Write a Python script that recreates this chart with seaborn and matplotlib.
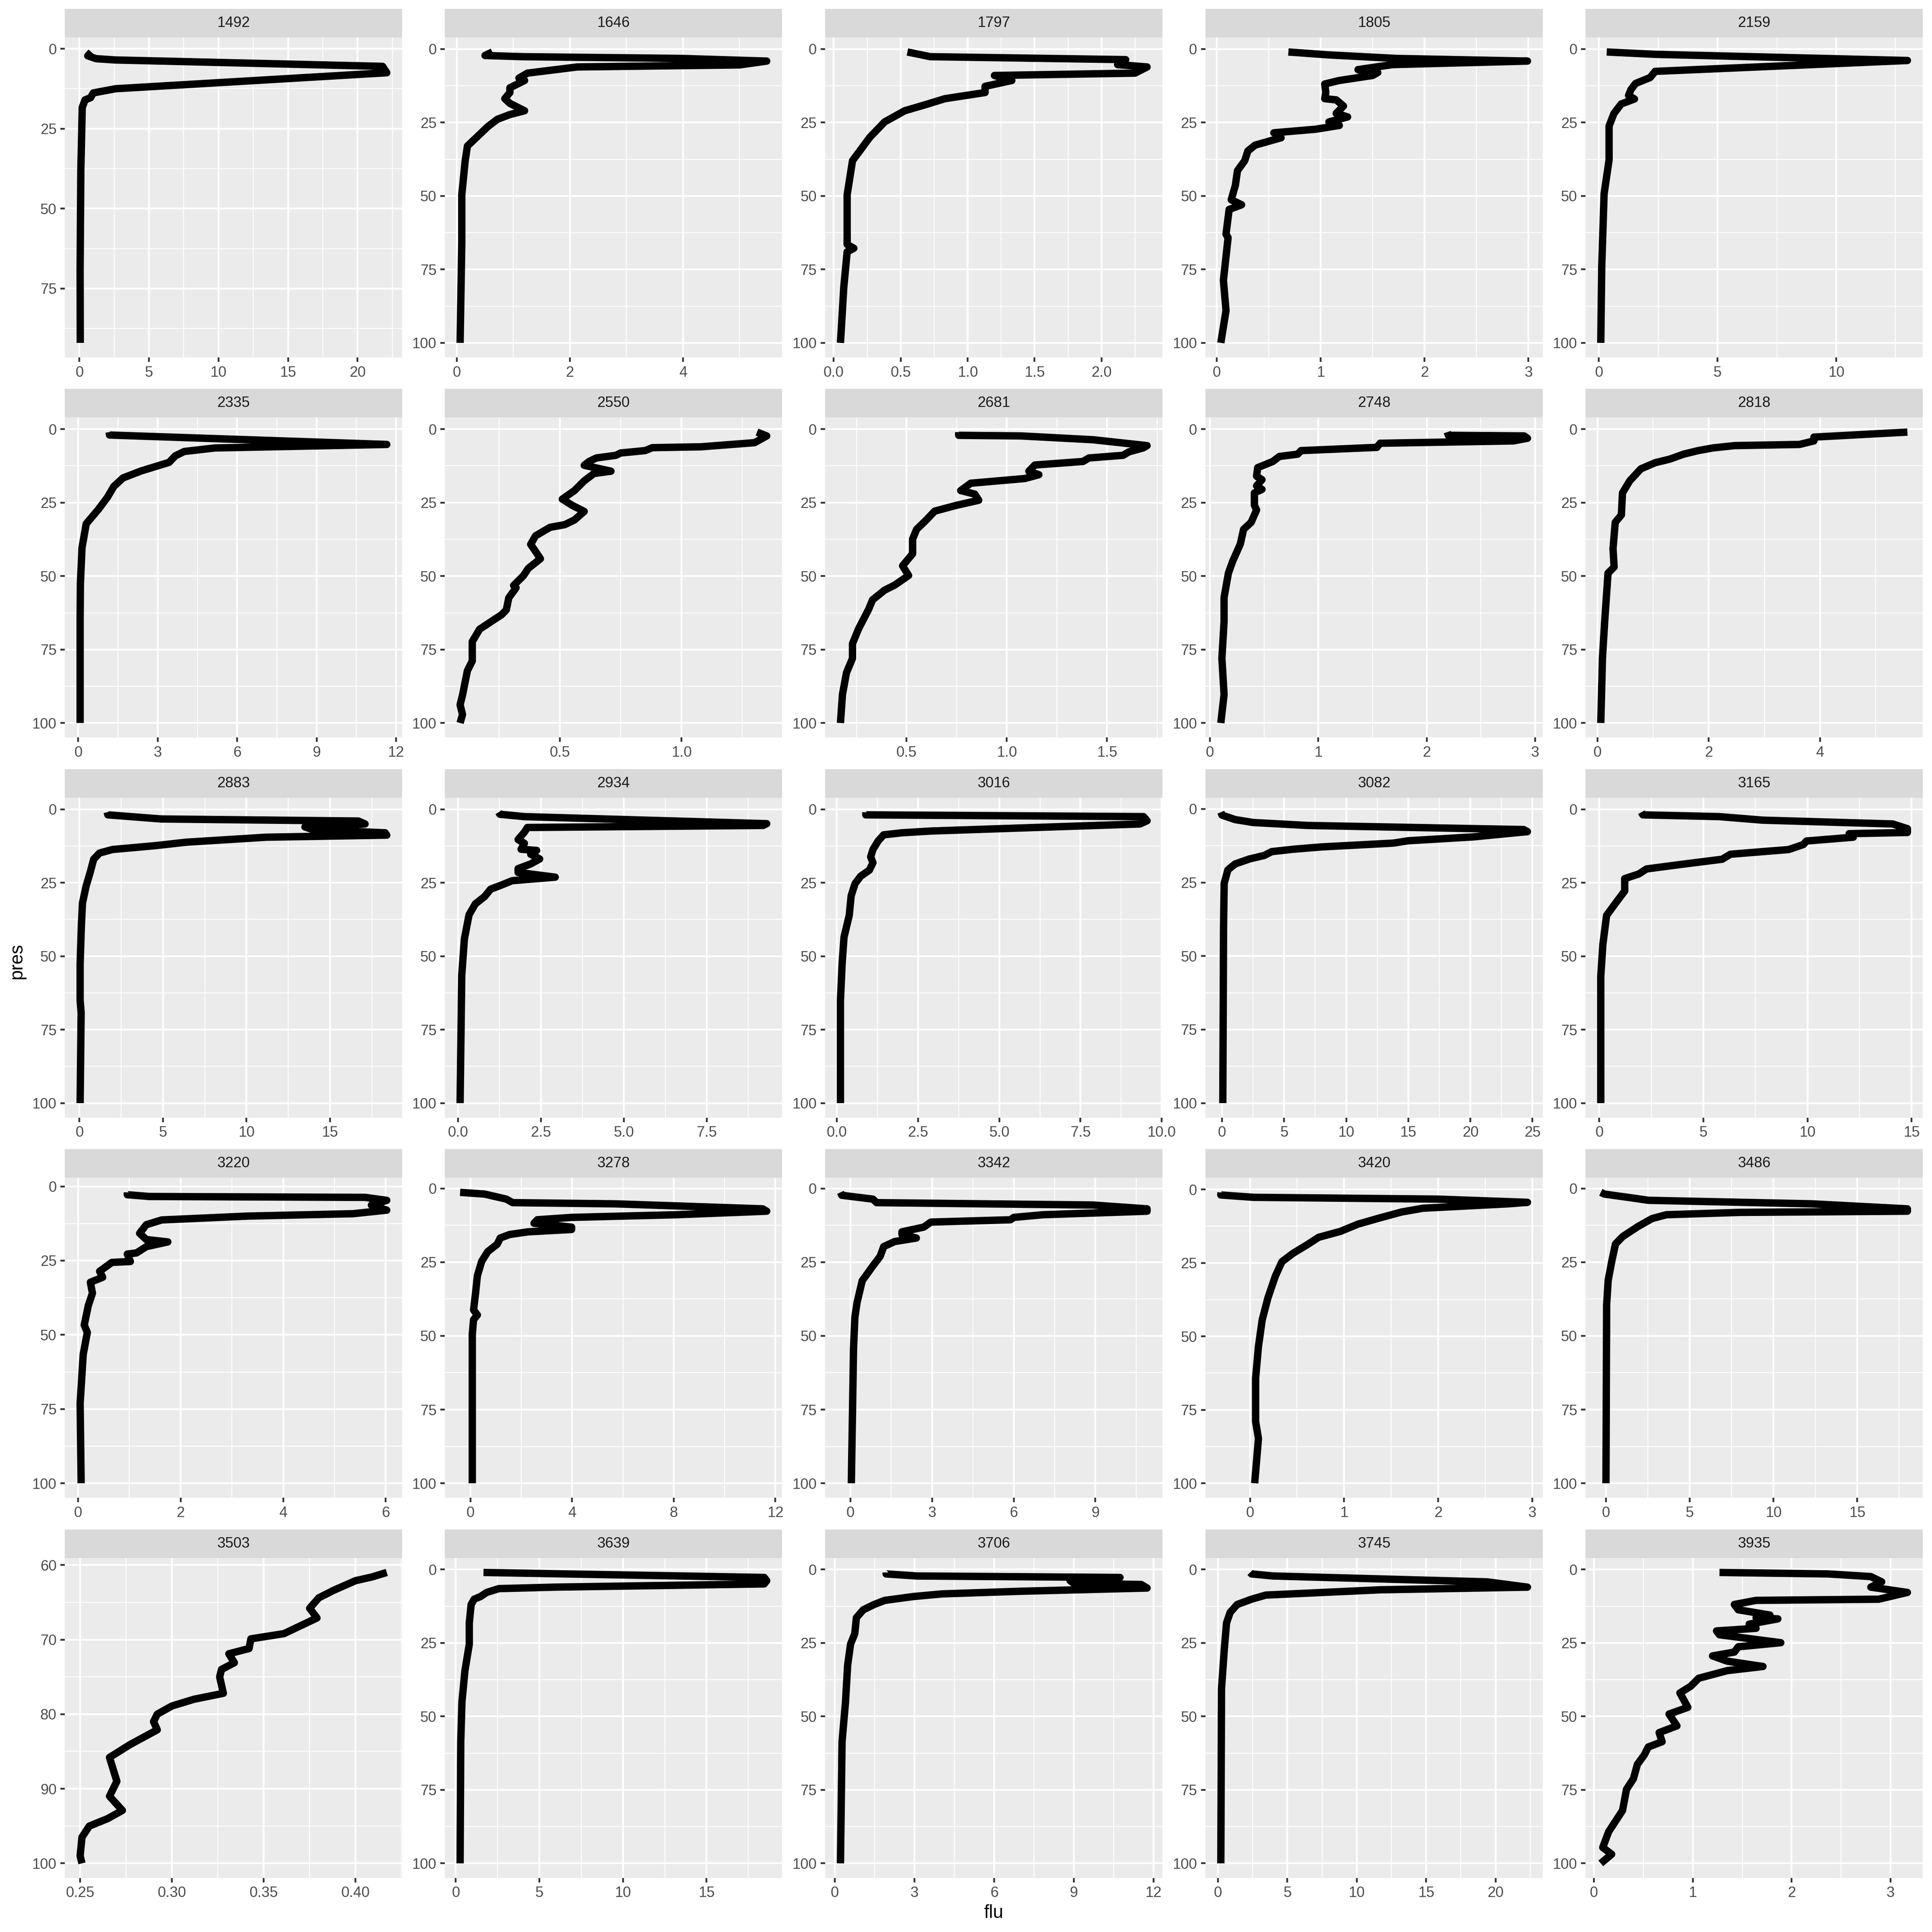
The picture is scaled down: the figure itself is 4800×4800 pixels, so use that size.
import numpy as np
import pandas as pd
import matplotlib
matplotlib.use("Agg")
import matplotlib.pyplot as plt
import seaborn as sns

# ---------------- data ----------------
stations = ["1492", "1646", "1797", "1805", "2159",
            "2335", "2550", "2681", "2748", "2818",
            "2883", "2934", "3016", "3082", "3165",
            "3220", "3278", "3342", "3420", "3486",
            "3503", "3639", "3706", "3745", "3935"]

pres_1492 = [1, 2.2, 3.1, 3.5, 5.5, 7.5, 12.5, 13.8, 15.3, 16, 18.4, 26.7, 38, 69, 92]
flu_1492 = [0.85, 0.6, 1.2, 2.6, 21.8, 22.1, 2.6, 1.0, 0.8, 0.4, 0.2, 0.16, 0.1, 0.05, 0.06]
xt_1492 = ["0", "5", "10", "15", "20"]

pres_1646 = [1, 2.2, 2.6, 3.2, 4.1, 5.4, 6.1, 8.2, 9.9, 10.7, 13.2, 14.8, 16.9, 18.5, 21, 22.3, 23.9, 26.4, 29.7, 33, 38, 49.6, 66, 100]
flu_1646 = [0.63, 0.5, 1.16, 3.98, 5.48, 5.0, 2.13, 1.25, 1.1, 1.2, 0.94, 0.94, 0.85, 0.94, 1.2, 0.94, 0.72, 0.55, 0.37, 0.19, 0.15, 0.09, 0.09, 0.06]
xt_1646 = ["0", "2", "4"]

pres_1797 = [1, 2.6, 3.6, 5.3, 6.1, 8.2, 9, 10.7, 12.7, 14.8, 16.9, 19, 21, 24.8, 30, 38, 49.6, 66.5, 67.8, 69, 81, 100]
flu_1797 = [0.55, 0.72, 2.18, 2.12, 2.34, 2.25, 1.2, 1.33, 1.13, 1.13, 0.83, 0.68, 0.53, 0.38, 0.27, 0.14, 0.1, 0.1, 0.15, 0.1, 0.075, 0.05]
xt_1797 = ["0.0", "0.5", "1.0", "1.5", "2.0"]

pres_1805 = [1, 2, 3.2, 4.1, 5.3, 7, 7.4, 8, 9, 10.7, 11.9, 14.8, 16.9, 17.3, 19.4, 21.9, 23.1, 24.8, 26, 27.3, 28.5, 30.2, 32.7, 34.7, 38, 41.4, 46.4, 51.3, 53, 54.6, 63, 64.2, 78.7, 89, 100]
flu_1805 = [0.69, 1.08, 1.73, 2.99, 1.69, 1.36, 1.39, 1.55, 1.5, 1.18, 1.04, 1.05, 1.04, 1.15, 1.22, 1.15, 1.26, 1.08, 1.18, 0.95, 0.55, 0.62, 0.37, 0.3, 0.27, 0.2, 0.18, 0.14, 0.24, 0.12, 0.09, 0.11, 0.065, 0.09, 0.04]
xt_1805 = ["0", "1", "2", "3"]

pres_2159 = [1, 1.8, 3.9, 7.6, 9.7, 11.7, 13.8, 15.8, 17, 18.7, 22, 26.2, 37.7, 49.3, 74, 100]
flu_2159 = [0.33, 2.37, 13.0, 2.37, 2.16, 1.55, 1.35, 1.25, 1.5, 0.94, 0.63, 0.43, 0.43, 0.22, 0.12, 0.08]
xt_2159 = ["0", "5", "10"]

pres_2335 = [1, 2, 5.2, 6.4, 7.6, 9.1, 11.3, 14.2, 16.6, 19.5, 23.2, 27.3, 32.2, 40.4, 52.7, 65, 100]
flu_2335 = [1.16, 1.18, 11.65, 5.16, 4.0, 3.66, 3.43, 2.38, 1.69, 1.34, 1.1, 0.76, 0.3, 0.14, 0.08, 0.07, 0.07]
xt_2335 = ["0", "3", "6", "9", "12"]

pres_2550 = [1, 2.3, 4.6, 6, 6.3, 7.3, 8.1, 8.9, 9.8, 11, 12.3, 14.3, 15.1, 17.6, 20.9, 23.8, 25.9, 28, 30.9, 32.5, 33.4, 36.3, 39.2, 41.6, 44.1, 47.4, 49.9, 53.2, 54, 57.4, 61.5, 63.2, 64.8, 68.1, 72.3, 78.9, 82.2, 90.5, 93.8, 97.1, 100]
flu_2550 = [1.31, 1.35, 1.30, 1.08, 0.88, 0.85, 0.75, 0.73, 0.65, 0.62, 0.6, 0.71, 0.64, 0.6, 0.56, 0.51, 0.55, 0.6, 0.56, 0.52, 0.46, 0.4, 0.38, 0.4, 0.42, 0.37, 0.35, 0.31, 0.32, 0.29, 0.28, 0.26, 0.23, 0.17, 0.14, 0.14, 0.12, 0.10, 0.09, 0.1, 0.09]
xt_2550 = ["0.5", "1.0"]

pres_2681 = [1, 2.1, 2.3, 3.6, 5.6, 6.4, 7.7, 8.9, 9.8, 11, 12.2, 14.3, 15.5, 16.8, 18.4, 20.9, 22.1, 24.2, 25.9, 27.9, 30.8, 34.1, 37.4, 42.4, 46.5, 49.8, 53.1, 54.8, 58.1, 61.4, 68, 73, 78, 82.9, 90.3, 100]
flu_2681 = [0.76, 0.76, 1.07, 1.43, 1.7, 1.68, 1.61, 1.58, 1.41, 1.38, 1.14, 1.11, 1.16, 1.09, 0.82, 0.77, 0.84, 0.86, 0.75, 0.64, 0.6, 0.55, 0.53, 0.53, 0.48, 0.51, 0.44, 0.39, 0.33, 0.31, 0.26, 0.23, 0.23, 0.2, 0.18, 0.17]
xt_2681 = ["0.5", "1.0", "1.5"]

pres_2748 = [1, 2.1, 2.3, 3.1, 4, 4.8, 6.2, 7.3, 8.5, 9.3, 11, 13.1, 16, 17.2, 19.3, 20.5, 21.7, 25.9, 27.5, 31.7, 34.1, 39.1, 44.9, 49, 57.3, 65.5, 78, 90.3, 100]
flu_2748 = [2.19, 2.2, 2.9, 2.93, 2.8, 1.57, 1.54, 0.84, 0.81, 0.64, 0.58, 0.44, 0.43, 0.48, 0.43, 0.48, 0.41, 0.41, 0.43, 0.38, 0.31, 0.28, 0.21, 0.17, 0.13, 0.13, 0.11, 0.13, 0.1]
xt_2748 = ["0", "1", "2", "3"]

pres_2818 = [1, 2.7, 4, 5.2, 5.6, 6.4, 7.3, 8.5, 10.2, 11.4, 13.5, 17.6, 21.7, 29.2, 31.7, 40.7, 46.9, 49, 57.3, 65.5, 78, 100]
flu_2818 = [5.57, 3.89, 3.89, 3.63, 2.46, 2.07, 1.81, 1.55, 1.3, 1.04, 0.78, 0.58, 0.45, 0.43, 0.32, 0.28, 0.3, 0.19, 0.16, 0.13, 0.09, 0.06]
xt_2818 = ["0", "2", "4"]

pres_2883 = [1, 1.9, 3.3, 4.0, 5.0, 6.0, 7.0, 8.0, 8.8, 9.5, 11.2, 12.4, 13.7, 14.9, 17, 21.1, 26.1, 31.9, 40.2, 52.7, 65, 69.2, 100]
flu_2883 = [1.66, 1.7, 4.9, 16.7, 17.1, 13.5, 14.0, 18.3, 18.4, 11.2, 6.4, 4.5, 1.96, 1.2, 0.85, 0.66, 0.4, 0.18, 0.11, 0.04, 0.04, 0.1, 0.04]
xt_2883 = ["0", "5", "10", "15"]

pres_2934 = [1, 1.7, 2.5, 4.9, 5.5, 6.2, 7.8, 10.3, 11.6, 13.6, 14, 15.3, 16.9, 18.6, 20.2, 21.5, 23.1, 24.3, 25.6, 27.2, 29.7, 32.2, 35.9, 44.1, 56.5, 100]
flu_2934 = [1.22, 1.26, 2.0, 9.31, 9.2, 2.09, 2.0, 1.81, 2.0, 1.9, 2.37, 2.19, 2.46, 2.19, 1.81, 1.81, 2.93, 1.63, 1.35, 0.98, 0.8, 0.52, 0.33, 0.19, 0.11, 0.06]
xt_2934 = ["0.0", "2.5", "5.0", "7.5"]

pres_3016 = [1, 1.9, 2.5, 3.9, 5, 6.2, 7.4, 8.0, 8.7, 10.8, 13.7, 16.2, 18.2, 20.7, 22.8, 25.3, 29.4, 36.1, 43.5, 52.7, 65.1, 100]
flu_3016 = [0.89, 0.89, 9.44, 9.55, 9.33, 6.1, 2.9, 2.0, 1.44, 1.27, 1.11, 1.04, 1.11, 1.0, 0.73, 0.56, 0.44, 0.38, 0.22, 0.16, 0.11, 0.11]
xt_3016 = ["0.0", "2.5", "5.0", "7.5", "10.0"]

pres_3082 = [1.1, 2.1, 3.6, 4.6, 5.6, 7, 7.7, 9.5, 10.8, 11.6, 12.9, 13.7, 14.5, 15.8, 17, 18.7, 20.7, 25.3, 40.2, 100]
flu_3082 = [-0.1, 0, 1.05, 2.5, 6.9, 24.3, 24.6, 20.2, 15, 13.8, 8, 5.7, 4.0, 3.4, 2.2, 1.05, 0.47, 0.17, 0.12, 0.06]
xt_3082 = ["0", "5", "10", "15", "20", "25"]

pres_3165 = [1, 1.9, 2.5, 3.7, 5, 6.6, 7.9, 8.3, 9.5, 10.8, 12, 13.7, 15.3, 17, 18.7, 20.3, 22, 23.6, 27.8, 31.1, 36.1, 46, 56.8, 100]
flu_3165 = [2.02, 2.09, 5.76, 7.85, 14.1, 14.8, 14.8, 12.0, 12.2, 9.95, 9.8, 9.1, 6.3, 5.9, 4.0, 2.27, 1.9, 1.22, 1.22, 0.87, 0.35, 0.17, 0.07, 0.07]
xt_3165 = ["0", "5", "10", "15"]

pres_3220 = [2, 2.8, 3.4, 3.7, 4.7, 6.3, 8, 9.2, 10, 11.3, 12.9, 15.8, 17.9, 18.7, 20.3, 22.4, 22.8, 25.3, 25.6, 28.6, 30.6, 32.3, 36, 40.1, 46.7, 49.2, 56.6, 73.1, 100]
flu_3220 = [0.96, 0.96, 1.39, 5.6, 6.02, 5.72, 6.02, 5.36, 3.31, 1.63, 1.33, 1.2, 1.33, 1.75, 1.33, 1.14, 0.96, 1.02, 0.66, 0.42, 0.48, 0.24, 0.28, 0.2, 0.12, 0.18, 0.1, 0.04, 0.06]
xt_3220 = ["0", "2", "4", "6"]

pres_3278 = [1.3, 1.9, 3.6, 4.8, 5.2, 6.9, 7.7, 8.9, 9.8, 10.6, 11.8, 13.1, 13.9, 14.7, 15.6, 16.8, 18.9, 21.4, 24.7, 29.6, 35.4, 41.2, 42.9, 44.5, 49.5, 64.4, 100]
flu_3278 = [-0.41, 0.56, 1.41, 1.66, 5.7, 11.5, 11.66, 8.1, 3.98, 2.63, 2.5, 3.98, 3.98, 2.27, 1.54, 1.17, 1.05, 0.68, 0.44, 0.27, 0.2, 0.12, 0.27, 0.12, 0.07, 0.07, 0.07]
xt_3278 = ["0", "4", "8", "12"]

pres_3342 = [1.3, 2.3, 3.6, 4.8, 5.6, 6.9, 7.7, 8.9, 9.8, 10.6, 11.4, 13.1, 14.7, 15.6, 16.8, 18, 19.7, 23, 26.3, 31.3, 38.7, 43.7, 54.5, 100]
flu_3342 = [-0.37, -0.32, 0.82, 0.96, 8.9, 10.9, 10.9, 7.07, 6.0, 5.88, 2.95, 2.69, 1.89, 1.89, 2.42, 1.62, 1.22, 1.09, 0.82, 0.43, 0.24, 0.16, 0.11, 0.03]
xt_3342 = ["0", "3", "6", "9"]

pres_3420 = [1, 1.9, 2.7, 3.3, 4.4, 4.9, 6.4, 7.7, 9.7, 11.8, 14.3, 16.3, 18.8, 21.7, 24.6, 29.5, 37, 44.4, 53.5, 64.2, 79, 84.8, 100]
flu_3420 = [-0.31, -0.31, 0.04, 1.99, 2.95, 2.75, 1.84, 1.61, 1.38, 1.15, 0.96, 0.73, 0.61, 0.46, 0.34, 0.27, 0.19, 0.13, 0.09, 0.06, 0.06, 0.09, 0.05]
xt_3420 = ["0", "1", "2", "3"]

pres_3486 = [1.3, 1.9, 3.1, 4, 5.2, 6.9, 7.7, 8.1, 8.9, 10.2, 13, 16.3, 18.8, 24.6, 31.2, 39.4, 100]
flu_3486 = [-0.31, -0.09, 1.44, 2.53, 12.3, 18, 18, 8, 3.6, 2.75, 1.88, 1.0, 0.57, 0.35, 0.13, 0.04, 0.0]
xt_3486 = ["0", "5", "10", "15"]

pres_3503 = [61, 61.6, 62.1, 63.4, 64.4, 65.8, 67.1, 69.2, 69.9, 71.2, 71.9, 73.1, 74, 75, 77.2, 78, 78.9, 80, 81, 82.1, 84.1, 85.8, 89, 91, 92.9, 94, 95, 96.5, 99, 100]
flu_3503 = [0.417, 0.409, 0.4, 0.388, 0.38, 0.375, 0.379, 0.361, 0.343, 0.342, 0.331, 0.334, 0.327, 0.326, 0.328, 0.312, 0.3, 0.292, 0.29, 0.292, 0.277, 0.266, 0.27, 0.266, 0.273, 0.265, 0.255, 0.251, 0.25, 0.251]
xt_3503 = ["0.25", "0.30", "0.35", "0.40"]

pres_3639 = [1, 2.7, 3.8, 4.9, 6, 6.5, 7.8, 9.2, 10.1, 11.9, 18.2, 25.4, 34.4, 45.1, 58.6, 100]
flu_3639 = [1.66, 18.45, 18.6, 18.45, 5.9, 2.58, 1.85, 1.48, 1.1, 0.92, 0.81, 0.81, 0.55, 0.37, 0.3, 0.26]
xt_3639 = ["0", "5", "10", "15"]

pres_3706 = [1, 1.5, 2.2, 2.7, 3.8, 4.7, 5.1, 6.3, 7.4, 8.3, 9.2, 10.5, 11.9, 13.7, 16.4, 21.8, 25.4, 32.6, 45.1, 58.6, 100]
flu_3706 = [1.93, 1.93, 3.09, 10.74, 8.86, 9.0, 11.54, 11.76, 6.98, 4.03, 2.95, 1.88, 1.48, 1.07, 0.81, 0.75, 0.59, 0.48, 0.4, 0.27, 0.21]
xt_3706 = ["0", "3", "6", "9", "12"]

pres_3745 = [1, 1.5, 2.2, 4.2, 6, 6.9, 8.7, 10.1, 11.9, 14.6, 18.2, 27.2, 40.6, 100]
flu_3745 = [2.32, 2.42, 3.97, 19.4, 22.3, 11.7, 3.45, 2.42, 1.39, 0.88, 0.62, 0.46, 0.26, 0.21]
xt_3745 = ["0", "5", "10", "15", "20"]

pres_3935 = [1, 1.5, 2.4, 4.2, 6, 7.8, 10.1, 10.5, 11.9, 13.7, 15.5, 16.4, 16.8, 18.6, 20, 20.9, 22.2, 24.9, 26.3, 28.1, 29.4, 31.2, 33, 34.4, 37, 39.7, 42, 46.9, 49.2, 53.2, 55.5, 58.6, 60.4, 63.1, 66.3, 71.2, 74.8, 82, 85.6, 89.2, 94.6, 96.9, 100]
flu_3935 = [1.27, 2.37, 2.8, 2.91, 2.8, 3.17, 2.88, 1.64, 1.42, 1.46, 1.78, 1.64, 1.86, 1.57, 1.64, 1.24, 1.27, 1.89, 1.46, 1.42, 1.2, 1.35, 1.71, 1.35, 1.06, 0.98, 0.87, 0.95, 0.76, 0.84, 0.66, 0.69, 0.55, 0.51, 0.44, 0.4, 0.33, 0.29, 0.22, 0.15, 0.09, 0.18, 0.07]
xt_3935 = ["0", "1", "2", "3"]

yt_default = ["0", "25", "50", "75", "100"]
yt_3503 = ["60", "70", "80", "90", "100"]

pres_all = [pres_1492, pres_1646, pres_1797, pres_1805, pres_2159,
            pres_2335, pres_2550, pres_2681, pres_2748, pres_2818,
            pres_2883, pres_2934, pres_3016, pres_3082, pres_3165,
            pres_3220, pres_3278, pres_3342, pres_3420, pres_3486,
            pres_3503, pres_3639, pres_3706, pres_3745, pres_3935]
flu_all = [flu_1492, flu_1646, flu_1797, flu_1805, flu_2159,
           flu_2335, flu_2550, flu_2681, flu_2748, flu_2818,
           flu_2883, flu_2934, flu_3016, flu_3082, flu_3165,
           flu_3220, flu_3278, flu_3342, flu_3420, flu_3486,
           flu_3503, flu_3639, flu_3706, flu_3745, flu_3935]
xt_all = [xt_1492, xt_1646, xt_1797, xt_1805, xt_2159,
          xt_2335, xt_2550, xt_2681, xt_2748, xt_2818,
          xt_2883, xt_2934, xt_3016, xt_3082, xt_3165,
          xt_3220, xt_3278, xt_3342, xt_3420, xt_3486,
          xt_3503, xt_3639, xt_3706, xt_3745, xt_3935]

rows = []
for st, p, f in zip(stations, pres_all, flu_all):
    for k, (pp, ff) in enumerate(zip(p, f)):
        rows.append({"station": st, "order": k, "pres": pp, "flu": ff})
df = pd.DataFrame(rows)

# ---------------- style ----------------
sns.set_theme(style="darkgrid")
plt.rcParams["font.family"] = ["Liberation Sans", "DejaVu Sans"]

W = H = 4800
fig = plt.figure(figsize=(16, 16), dpi=300)
fig.patch.set_facecolor("white")

PANEL_BG = "#EBEBEB"
STRIP_BG = "#D9D9D9"
TICK_COL = "#333333"
LAB_COL = "#4D4D4D"
FS = 8.8


def expand(lo, hi, m=0.05):
    r = hi - lo
    return lo - m * r, hi + m * r


def minor_breaks(major, lo, hi):
    major = sorted(major)
    step = major[1] - major[0]
    b = list(major)
    if b[0] > lo:
        b = [b[0] - step] + b
    if b[-1] < hi:
        b = b + [b[-1] + step]
    mids = [(b[i] + b[i + 1]) / 2 for i in range(len(b) - 1)]
    return [m for m in mids if lo <= m <= hi]


def fig_rect(left, top, w, h):
    return [left / W, 1 - (top + h) / H, w / W, h / H]


col_left = [161, 1105, 2050, 2995, 3939]
PW = 838
row_top = [22 + 944.4 * r for r in range(5)]
SH = 71
PH = 795

for i, st in enumerate(stations):
    r, c = divmod(i, 5)
    left = col_left[c]
    top = row_top[r]
    # strip
    axs = fig.add_axes(fig_rect(left, top, PW, SH))
    axs.set_facecolor(STRIP_BG)
    axs.set_xticks([]); axs.set_yticks([])
    for s in axs.spines.values():
        s.set_visible(False)
    axs.grid(False)
    axs.text(0.5, 0.5, st, ha="center", va="center", fontsize=FS,
             color="#1A1A1A", transform=axs.transAxes)

    # panel
    ax = fig.add_axes(fig_rect(left, top + SH, PW, PH))
    ax.set_facecolor(PANEL_BG)
    for s in ax.spines.values():
        s.set_visible(False)
    sub = df[df["station"] == st].sort_values("order")
    sns.lineplot(data=sub, x="flu", y="pres", sort=False, estimator=None,
                 color="black", linewidth=4.4, ax=ax, legend=False,
                 solid_capstyle="butt", solid_joinstyle="round", zorder=3)

    xlo, xhi = expand(sub["flu"].min(), sub["flu"].max())
    ylo, yhi = expand(sub["pres"].min(), sub["pres"].max())
    ax.set_xlim(xlo, xhi)
    ax.set_ylim(yhi, ylo)

    xlabels = xt_all[i]
    xmaj = [float(v) for v in xlabels]
    keep = [(v, l) for v, l in zip(xmaj, xlabels) if xlo <= v <= xhi]
    ax.set_xticks([v for v, _ in keep])
    ax.set_xticklabels([l for _, l in keep])
    ax.set_xticks(minor_breaks(xmaj, xlo, xhi), minor=True)

    ylabels = yt_3503 if st == "3503" else yt_default
    ymaj = [float(v) for v in ylabels]
    keep = [(v, l) for v, l in zip(ymaj, ylabels) if ylo <= v <= yhi]
    ax.set_yticks([v for v, _ in keep])
    ax.set_yticklabels([l for _, l in keep])
    ax.set_yticks(minor_breaks(ymaj, ylo, yhi), minor=True)

    ax.grid(which="major", color="white", linewidth=1.07, zorder=1)
    ax.grid(which="minor", color="white", linewidth=0.53, zorder=1)
    ax.set_axisbelow(True)
    ax.tick_params(which="major", length=2.75, width=1.07, color=TICK_COL,
                   labelsize=FS, labelcolor=LAB_COL, pad=2.2,
                   bottom=True, left=True)
    ax.tick_params(which="minor", length=0, bottom=False, left=False)
    ax.set_xlabel("")
    ax.set_ylabel("")

fig.text(2469 / W, 1 - 4753 / H, "flu", ha="center", va="center", fontsize=11, color="black")
fig.text(42 / W, 1 - 2388 / H, "pres", ha="center", va="center", fontsize=11,
         color="black", rotation=90)

fig.savefig("out.png", dpi=300, facecolor="white")
